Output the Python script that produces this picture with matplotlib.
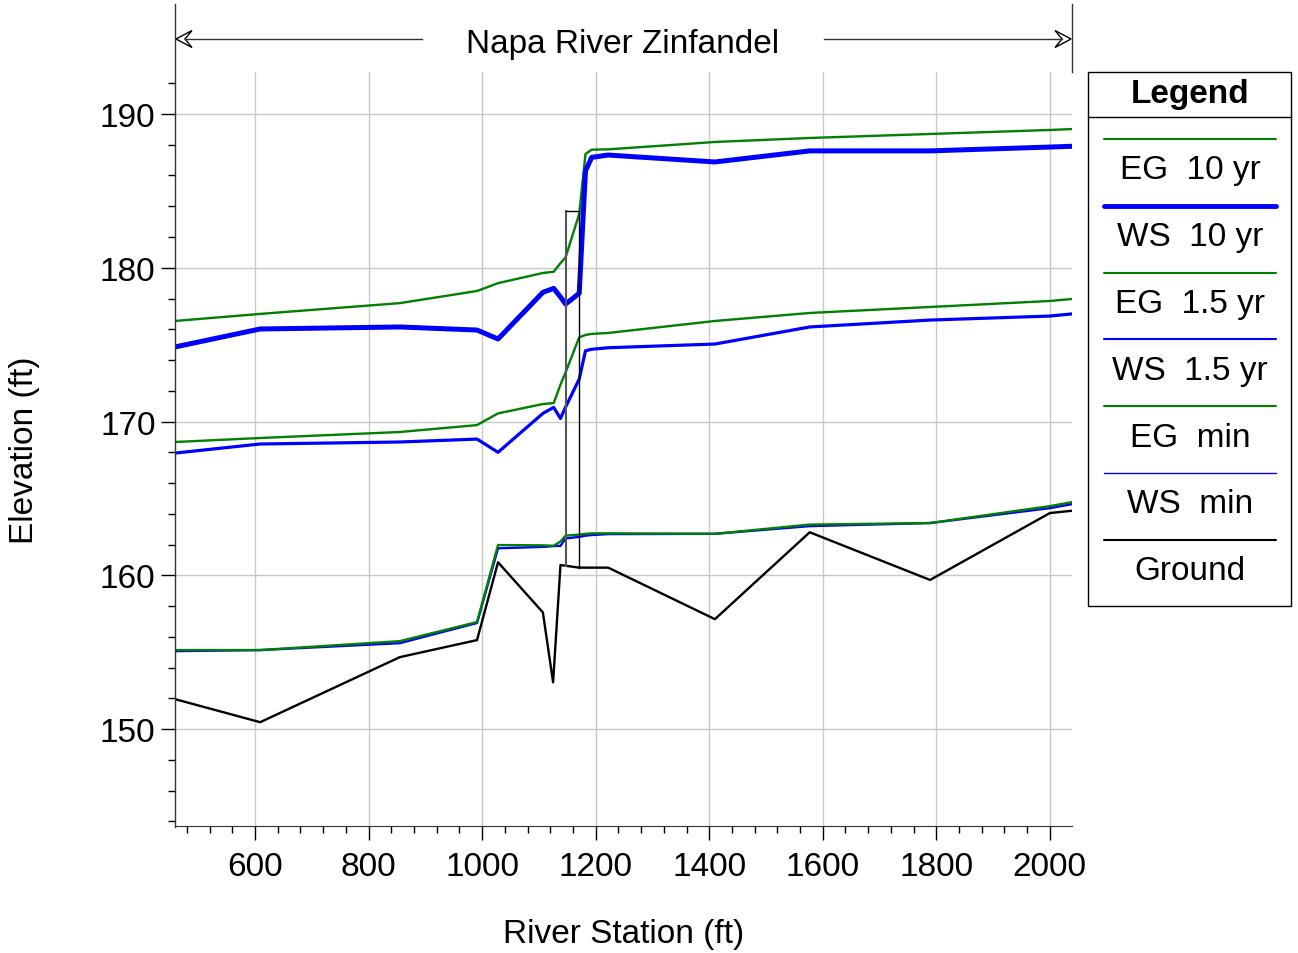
import numpy as np
import matplotlib
matplotlib.use("Agg")
import matplotlib.pyplot as plt
from matplotlib.lines import Line2D
from matplotlib.patches import Polygon
from matplotlib.ticker import MultipleLocator

plt.rcParams['font.family'] = ['Liberation Sans', 'DejaVu Sans']

# -----------------------------
# Data
# -----------------------------
stations = [459, 609, 855, 991, 1028, 1107, 1126, 1138, 1147, 1171,
            1182, 1193, 1222, 1410, 1577, 1789, 2000, 2039]

eg_10 = [176.54, 177.0, 177.7, 178.49, 179.0, 179.66, 179.74, 180.3, 180.68, 183.5,
         187.4, 187.68, 187.7, 188.18, 188.44, 188.7, 188.96, 189.02]
ws_10 = [174.85, 176.02, 176.15, 175.95, 175.37, 178.4, 178.66, 178.1, 177.64, 178.34,
         186.3, 187.18, 187.33, 186.88, 187.6, 187.6, 187.85, 187.9]
eg_15 = [168.67, 168.93, 169.32, 169.77, 170.53, 171.14, 171.2, 172.4, 173.2, 175.48,
         175.63, 175.7, 175.76, 176.54, 177.06, 177.45, 177.84, 177.97]
ws_15 = [167.95, 168.54, 168.67, 168.86, 168.0, 170.53, 170.92, 170.2, 170.94, 172.76,
         174.6, 174.7, 174.8, 175.04, 176.15, 176.6, 176.86, 177.0]
eg_min = [155.14, 155.14, 155.72, 156.96, 161.97, 161.95, 161.92, 162.2, 162.58, 162.65,
          162.7, 162.73, 162.73, 162.7, 163.3, 163.4, 164.5, 164.76]
ws_min = [155.07, 155.14, 155.59, 156.9, 161.76, 161.85, 161.9, 161.92, 162.4, 162.5,
          162.58, 162.62, 162.68, 162.7, 163.2, 163.4, 164.37, 164.63]

ground_sta = [459, 609, 855, 991, 1028, 1107, 1125, 1138, 1171, 1222,
              1410, 1577, 1789, 2000, 2039]
ground = [151.95, 150.45, 154.68, 155.79, 160.85, 157.59, 153.04, 160.67, 160.5, 160.5,
          157.15, 162.8, 159.7, 164.05, 164.2]

bridge_sta = [1147, 1171]
bridge_low = [160.6, 160.5]
bridge_top = 183.7

legend_labels = ["EG  10 yr", "WS  10 yr", "EG  1.5 yr", "WS  1.5 yr",
                 "EG  min", "WS  min", "Ground"]

GREEN = "#008000"
BLUE = "#0000ff"
FS = 24

# -----------------------------
# Figure / axes
# -----------------------------
W, H = 1298, 954
fig = plt.figure(figsize=(W / 100, H / 100), dpi=100)


def fx(px):
    return px / W


def fy(py):
    return 1 - py / H


ax = fig.add_axes([fx(175), fy(827), fx(1072) - fx(175), fy(73) - fy(827)])
ax.set_xlim(459, 2039)
ax.set_ylim(143.7, 192.73)

ax.grid(True, color="#c8c8c8", lw=1.0, zorder=0)
ax.xaxis.set_major_locator(MultipleLocator(200))
ax.xaxis.set_minor_locator(MultipleLocator(40))
ax.yaxis.set_major_locator(MultipleLocator(10))
ax.yaxis.set_minor_locator(MultipleLocator(2))
ax.tick_params(axis="both", which="major", length=10, width=1.0, labelsize=FS,
               colors="black", direction="out")
ax.tick_params(axis="both", which="minor", length=5, width=1.0, direction="out")
ax.tick_params(axis="x", pad=8)
ax.tick_params(axis="y", pad=4)
for s in ["top", "right", "left"]:
    ax.spines[s].set_visible(False)
ax.spines["bottom"].set_color("#333333")

ax.set_xlabel("River Station (ft)", fontsize=FS, labelpad=26)
fig.text(fx(25), fy(450), "Elevation (ft)", fontsize=FS, rotation=90,
         ha="center", va="center")

# profiles
ax.plot(stations, eg_10, color=GREEN, lw=1.7, zorder=3)
ax.plot(stations, ws_10, color=BLUE, lw=3.6, zorder=3)
ax.plot(stations, eg_15, color=GREEN, lw=1.7, zorder=3)
ax.plot(stations, ws_15, color=BLUE, lw=2.3, zorder=3)
ax.plot(stations, ws_min, color=BLUE, lw=1.7, zorder=3)
ax.plot(stations, eg_min, color=GREEN, lw=1.7, zorder=3)
ax.plot(ground_sta, ground, color="black", lw=1.7, zorder=4)

# bridge deck outline
ax.plot([bridge_sta[0], bridge_sta[0]], [bridge_low[0], bridge_top], color="#555555", lw=1.5, zorder=5)
ax.plot(bridge_sta, [bridge_top, bridge_top], color="black", lw=1.0, zorder=5)
ax.plot([bridge_sta[1], bridge_sta[1]], [bridge_top, bridge_low[1]], color="black", lw=1.0, zorder=5)

# left spine extended up to the header, right header tick
fig.add_artist(Line2D([fx(175), fx(175)], [fy(828), fy(5)], color="#333333", lw=1.0))
fig.add_artist(Line2D([fx(1072), fx(1072)], [fy(73), fy(5)], color="#333333", lw=1.0))

# header arrows and title
fig.add_artist(Line2D([fx(185), fx(422)], [fy(40), fy(40)], color="#333333", lw=1.0))
fig.add_artist(Line2D([fx(824), fx(1062)], [fy(40), fy(40)], color="#333333", lw=1.0))
left_head = [(176, 40), (192, 31.5), (185, 40), (192, 48.5)]
right_head = [(1071, 40), (1055, 31.5), (1062, 40), (1055, 48.5)]
for head in (left_head, right_head):
    fig.add_artist(Polygon([(fx(a), fy(b)) for a, b in head], closed=True,
                           facecolor="white", edgecolor="black", lw=1.0))
fig.text(fx(623), fy(44), "Napa River Zinfandel", fontsize=FS, ha="center", va="center")

# legend box drawn by hand
lx0, lx1, ly0, ly1 = 1088, 1291, 73, 607
fig.add_artist(Polygon([(fx(lx0), fy(ly0)), (fx(lx1), fy(ly0)), (fx(lx1), fy(ly1)), (fx(lx0), fy(ly1))],
                       closed=True, facecolor="white", edgecolor="black", lw=1.0))
fig.add_artist(Line2D([fx(lx0), fx(lx1)], [fy(118), fy(118)], color="black", lw=1.0))
fig.text(fx(1190), fy(95), "Legend", fontsize=FS, fontweight="bold", ha="center", va="center")

leg_colors = [GREEN, BLUE, GREEN, BLUE, GREEN, BLUE, "black"]
leg_widths = [1.5, 3.5, 1.5, 1.5, 1.5, 1.0, 1.5]
for i, (lab, c, w) in enumerate(zip(legend_labels, leg_colors, leg_widths)):
    yl = 140 + i * 66.8
    fig.add_artist(Line2D([fx(1104), fx(1276)], [fy(yl), fy(yl)], color=c, lw=w,
                          solid_capstyle="round"))
    fig.text(fx(1190), fy(yl + 31), lab, fontsize=FS, ha="center", va="center")

fig.savefig("out.png", dpi=100)
